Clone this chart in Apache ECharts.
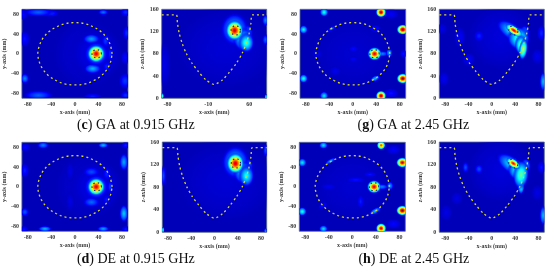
<!DOCTYPE html>
<html><head><meta charset="utf-8">
<style>html,body{margin:0;padding:0;background:#fff}#c{width:550px;height:268px}</style>
<script src="https://cdn.jsdelivr.net/npm/echarts@6/dist/echarts.min.js"></script>
</head><body><div id="c"></div>
<script>
// Hot spots: [x mm, y or z mm, level 0..1, radius-x mm, radius-y mm, tilt deg]
const gaLow915Top = [
 [20,0,.085,40,50],[36,0,.11,30,36],[-62,84,.22,17,6],[-42,82,.18,10,5],[48,84,.24,6,4],[-85,-50,.26,5,7],[-85,30,.14,6,11],
 [88,42,.17,5,10],[-62,-84,.22,17,7],[30,-86,.15,11,4],[85,-55,.18,7,11],[85,-8,.13,5,10],[-88,80,.13,6,8],[86,84,.17,6,6],[86,-84,.17,6,6],
 [28,30,.28,10,7],[30,-30,.3,10,7],[52,26,.18,5,10],[54,-26,.16,5,8],[60,0,.16,4,12],
 [36,0,.3,14,17],[36,0,.92,10,12]
];
const gaLow915Side = [
 [20,90,.085,60,50],[35,124,.33,16,20],[35,122,.94,10,12],[50,106,.38,12,14],[55,100,.44,9,12],[56,118,.3,7,10],[88,140,.26,4,7],[88,105,.22,4,7],
 [-89,4,.45,2,4],[89,2,.4,2,4],[-85,60,.1,7,28]
];
const gaHigh245Top = [
 [0,0,.08,50,50],[37,0,.92,8,9],[50,0,.26,8,4],[62,2,.3,4,6],[48,84,.98,6,7],[-49,84,.4,5,6],[85,49,1,7,7],[-84,49,.38,5,6],
 [85,-50,1,7,7],[-84,-50,.4,5,6],[48,-85,.98,6,7],[-49,-85,.35,5,6],[38,-50,.31,6,4,25],[-36,51,.23,5,3,25],[38,51,.14,7,5],
 [1,10,.13,6,5],[1,-11,.12,6,4],[86,0,.14,4,6],[-30,-35,.11,7,7],[-60,0,.1,7,7],[65,80,.12,9,7],[65,-80,.14,9,7]
];
const gaHigh245Side = [
 [15,110,.09,40,40],[34,120,.36,20,10,-35],[38,122,.92,11,5,-35],[46,108,.44,13,14],[50,96,.5,7,12],[54,88,.56,5,13,-8],[56,118,.3,6,9],[-22,112,.16,6,7],
 [85,117,.16,5,10],[88,30,.31,4,12],[-55,110,.12,7,13],[-40,70,.12,8,8,30],[-82,35,.11,6,9],[78,75,.11,7,10],[20,135,.11,7,5],[-85,125,.1,6,7]
];
const deLow915Top = [
 [20,0,.085,38,48],[36,0,.11,30,36],[-54,84,.25,7,5],[48,84,.31,6,4],[83,50,.29,5,12],[-85,33,.15,5,10],[-85,-51,.21,5,6],[-51,-85,.31,8,4],
 [48,-85,.29,7,4],[83,-54,.33,5,12],[28,30,.2,10,7],[28,-31,.23,10,7],[54,26,.16,5,10],[54,-26,.15,5,8],[60,0,.18,4,10],
 [-8,30,.1,5,14],[-8,-30,.1,5,14],[-84,80,.13,6,6],[86,84,.15,5,5],[86,-86,.15,5,5],[-86,-86,.14,5,5],
 [36,0,.3,14,17],[36,0,.92,10,12]
];
const deLow915Side = [
 [20,90,.085,60,50],[36,124,.33,16,20],[36,122,.94,10,12],[50,106,.36,12,14],[55,100,.4,9,13],[58,118,.28,6,9],[88,145,.2,3,8],[-88,100,.2,3,13],
 [-89,4,.43,2,4],[88,2,.28,2,4]
];
const deHigh245Top = [
 [0,0,.08,50,50],[37,0,.92,8,9],[50,0,.26,8,4],[64,2,.28,4,6],[49,84,.82,5,6],[-49,84,.35,5,5],[85,49,.95,7,7],[-85,49,.36,5,6],
 [85,-48,1,7,7],[-85,-50,.4,5,6],[49,-84,.94,6,7],[-49,-85,.35,5,5],[39,-49,.31,8,4,30],[-37,52,.28,7,3,30],[-50,-38,.15,6,4,35],
 [14,-30,.15,4,10],[6,14,.14,12,4],[-40,0,.11,10,5],[30,25,.14,8,4],[70,75,.12,9,7],[70,-75,.13,9,7]
];
const deHigh245Side = [
 [15,110,.09,40,40],[33,120,.36,19,10,-35],[37,122,.9,9,5,-35],[45,110,.44,12,12],[50,102,.48,9,17,-6],[50,82,.44,4,10],[58,118,.3,6,9],[-22,112,.2,5,6],[-45,115,.2,4,7],
 [88,30,.31,4,12],[85,115,.14,5,8],[-78,35,.1,7,10],[78,70,.1,7,10],[-60,60,.1,7,8],[15,135,.1,7,4]
];
// Dashed outline of the phantom (mm)
const circleX = [63,60,54,44,32,17,0,-17,-32,-44,-54,-60,-63,-60,-54,-44,-32,-17,0,17,32,44,54,60,63];
const circleY = [0,18,32,45,54,61,63,61,54,45,32,18,0,-18,-32,-45,-54,-61,-63,-61,-54,-45,-32,-18,0];
const profileX = [-90,-65,-65,-63,-60,-55,-48,-38,-27,-14,0,14,27,38,48,55,60,63,65,65,90];
const profileZ = [150,150,150,135,117,99,81,63,48,33,25,33,48,63,81,99,117,135,150,150,150];
// Dashed ring marking the target
const ringDX = [8,6,0,-6,-8,-6,0,6,8];
const ringDY = [0,6,8,6,0,-6,-8,-6,0];
const topTicksX = [-80,-40,0,40,80];
const topTicksY = [-80,-40,0,40,80];
const sideTicksX = [-80,-40,0,40,80];
const sideTicksXc = [-80,-10,60];
const sideTicksZ = [0,40,80,120,160];

const FONT='"Liberation Serif",serif', TC='#3a3a3a', AX='#5c6f86';
function jet(v,a){
  const c=(t)=>Math.max(0,Math.min(1,t));
  const r=c(Math.min(4*v-1.5,-4*v+4.5)),g=c(Math.min(4*v-0.5,-4*v+3.5)),b=c(Math.min(4*v+0.5,-4*v+2.5));
  return `rgba(${Math.round(r*255)},${Math.round(g*255)},${Math.round(b*255)},${a})`;
}
const BG=.055, SPREAD=1.6;
function blobFill(L){
  const st=[];
  for(let i=0;i<=14;i++){const s=i/14;
    const val=BG+(L-BG)*(1-Math.pow(s,1.3));
    const a=s<.7?1:Math.max(0,1-(s-.7)/.3);
    st.push({offset:s,color:jet(val,a.toFixed(3))});}
  return {type:'radial',x:.5,y:.5,r:.5,colorStops:st};
}
const panels=[
 {blobs:gaLow915Top,side:false,x0:21.7,x1:128,y0:9.3,y1:98.3,ticks:topTicksX,yn:'y-axis (mm)'},
 {blobs:gaLow915Side,side:true,x0:161.7,x1:266.7,y0:9.3,y1:98.3,ticks:sideTicksXc,yn:'z-axis (mm)'},
 {blobs:gaHigh245Top,side:false,x0:300,x1:405.7,y0:9.3,y1:98.3,ticks:topTicksX,yn:'y-axis (mm)'},
 {blobs:gaHigh245Side,side:true,x0:439.3,x1:544.3,y0:9.3,y1:98.3,ticks:sideTicksX,yn:'z-axis (mm)'},
 {blobs:deLow915Top,side:false,x0:21.7,x1:128,y0:142.3,y1:231.3,ticks:topTicksX,yn:'y-axis (mm)'},
 {blobs:deLow915Side,side:true,x0:162.3,x1:266.7,y0:142,y1:232.3,ticks:sideTicksX,yn:'z-axis (mm)'},
 {blobs:deHigh245Top,side:false,x0:299.3,x1:405.3,y0:142.3,y1:231.3,ticks:topTicksX,yn:'y-axis (mm)'},
 {blobs:deHigh245Side,side:true,x0:439.3,x1:544.3,y0:142,y1:232.3,ticks:sideTicksX,yn:'z-axis (mm)'}
];
const grid=[],xAxis=[],yAxis=[],series=[];
panels.forEach((p,i)=>{
  grid.push({left:p.x0,top:p.y0,width:p.x1-p.x0,height:p.y1-p.y0,show:true,backgroundColor:jet(BG,1),borderColor:AX,borderWidth:.8,z:0});
  const lab={fontFamily:FONT,fontWeight:'bold',fontSize:6,color:TC,margin:3};
  xAxis.push({gridIndex:i,type:'value',min:-90,max:90,splitLine:{show:false},
    axisLine:{show:false},axisTick:{show:false},
    axisLabel:Object.assign({customValues:p.ticks,showMinLabel:true,showMaxLabel:true},lab),
    name:'x-axis (mm)',nameLocation:'middle',nameGap:11,nameTextStyle:{fontFamily:FONT,fontWeight:'bold',fontSize:6,color:TC}});
  const ys=p.side?sideTicksZ:topTicksY;
  yAxis.push({gridIndex:i,type:'value',min:p.side?0:-90,max:p.side?160:90,splitLine:{show:false},
    axisLine:{show:false},axisTick:{show:false},
    axisLabel:Object.assign({customValues:ys},lab),
    name:p.yn,nameLocation:'middle',nameGap:9,nameTextStyle:{fontFamily:FONT,fontWeight:'bold',fontSize:6,color:TC}});
  const sorted=p.blobs.map(b=>[b[0],b[1],b[2],b[3],b[4],b[5]||0]).sort((a,b)=>a[2]-b[2]);
  series.push({type:'custom',xAxisIndex:i,yAxisIndex:i,silent:true,z:2,data:sorted,clip:true,
    encode:{x:0,y:1},
    renderItem:(params,api)=>{
      const c=api.coord([api.value(0),api.value(1)]);
      const sx=api.size([api.value(3),0])[0]*SPREAD, sy=api.size([0,api.value(4)])[1]*SPREAD;
      const tilt=api.value(5)||0;
      const cs=params.coordSys;
      return {type:'group',clipPath:{type:'rect',shape:{x:cs.x,y:cs.y,width:cs.width,height:cs.height}},
        children:[{type:'circle',x:c[0],y:c[1],scaleX:1,scaleY:sy/sx,rotation:tilt*Math.PI/180,
          shape:{cx:0,cy:0,r:sx},style:{fill:blobFill(api.value(2))}}]};
    }});
  const outline=p.side?profileX.map((x,j)=>[x,profileZ[j]]):circleX.map((x,j)=>[x,circleY[j]]);
  series.push({type:'line',xAxisIndex:i,yAxisIndex:i,silent:true,z:4,symbol:'none',smooth:p.side?.25:.35,data:outline,clip:true,
    lineStyle:{color:'#d8d828',width:1.3,type:[2,3]}});
  const cx=37,cy=p.side?122:0;
  series.push({type:'line',xAxisIndex:i,yAxisIndex:i,silent:true,z:5,symbol:'none',smooth:.4,
    data:ringDX.map((d,j)=>[cx+d,cy+ringDY[j]]),
    lineStyle:{color:'#1a2a90',width:1.2,type:[1.5,3]}});
});
const caps=[['c',' GA at 0.915 GHz',135.8,118.5],['g',' GA at 2.45 GHz',413.3,118.5],['d',' DE at 0.915 GHz',135.8,252.5],['h',' DE at 2.45 GHz',413.8,252.5]];
const graphic=caps.map(c=>({type:'text',x:c[2],y:c[3],silent:true,
  style:{text:`{n|(}{b|${c[0]}}{n|)${c[1]}}`,align:'center',
   rich:{n:{fontFamily:FONT,fontSize:14,fill:'#111',color:'#111'},b:{fontFamily:FONT,fontSize:14,fontWeight:'bold',fill:'#111',color:'#111'}}}}));
const chart=echarts.init(document.getElementById('c'),null,{renderer:'canvas'});
chart.setOption({animation:false,grid,xAxis,yAxis,series,graphic,tooltip:{show:false}});
</script></body></html>
